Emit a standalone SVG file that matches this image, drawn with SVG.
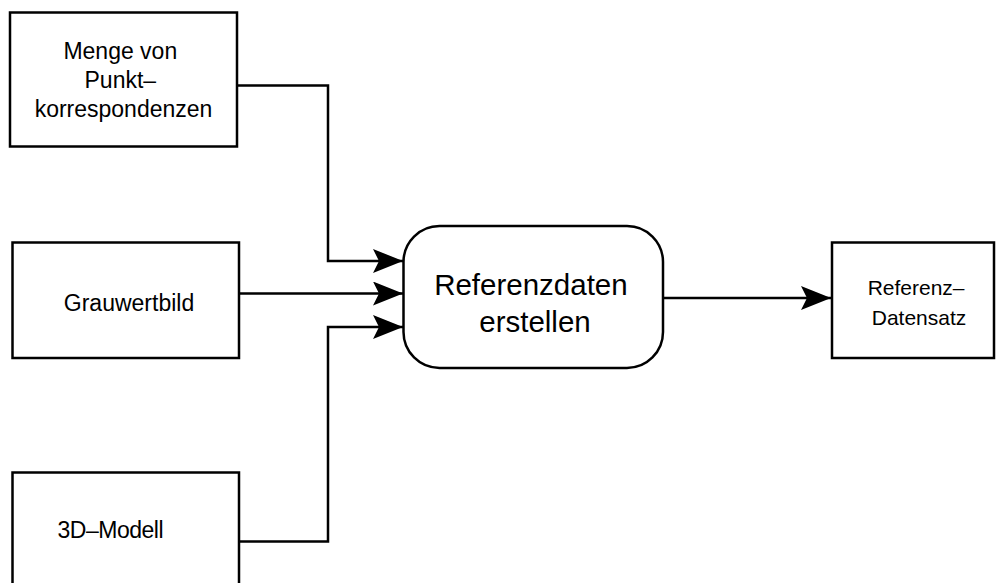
<svg xmlns="http://www.w3.org/2000/svg" width="996" height="583" viewBox="0 0 996 583">
  <style>
    .box { fill: #ffffff; stroke: #000000; stroke-width: 2.5; }
    .lbl { font-family: "Liberation Sans", Arial, sans-serif; fill: #000000; text-anchor: middle; }
    .conn { fill: none; stroke: #000000; stroke-width: 2.5; marker-end: url(#arrow); }
  </style>
  <defs>
    <marker id="arrow" markerUnits="userSpaceOnUse" markerWidth="32" markerHeight="26" refX="30" refY="12" orient="auto">
      <path d="M0,0 L30,12 L0,24 L6,12 Z" fill="#000000"/>
    </marker>
  </defs>
  <rect width="996" height="583" fill="#ffffff"/>

  <g id="connectors">
    <path class="conn" d="M237,85.5 H328 V261 H403"/>
    <path class="conn" d="M239,293.5 H403"/>
    <path class="conn" d="M239,541.5 H328 V327 H403"/>
    <path class="conn" d="M663,298 H831"/>
  </g>

  <g id="punktkorrespondenzen">
    <rect class="box" x="10" y="12.5" width="227" height="134"/>
    <text class="lbl" font-size="23" x="123.5">
      <tspan x="123.5" y="59">Menge von</tspan>
      <tspan x="123.5" y="88">Punkt–</tspan>
      <tspan x="123.5" y="117">korrespondenzen</tspan>
    </text>
  </g>

  <g id="grauwertbild">
    <rect class="box" x="12.5" y="242.5" width="226.5" height="115.5"/>
    <text class="lbl" font-size="23" x="129" y="311">Grauwertbild</text>
  </g>

  <g id="modell3d">
    <rect class="box" x="12.5" y="472.5" width="226.5" height="130"/>
    <text class="lbl" font-size="23" x="110.5" y="538" textLength="106" lengthAdjust="spacing">3D–Modell</text>
  </g>

  <g id="referenzdaten-erstellen">
    <rect class="box" x="403.5" y="226" width="259.5" height="142" rx="36" ry="36"/>
    <text class="lbl" font-size="29.5" x="535">
      <tspan x="535" y="295">Referenzdaten</tspan>
      <tspan x="535" y="332">erstellen</tspan>
    </text>
  </g>

  <g id="referenz-datensatz">
    <rect class="box" x="832" y="242.5" width="162" height="115.5"/>
    <text class="lbl" font-size="21" x="919">
      <tspan x="919" y="295">Referenz–</tspan>
      <tspan x="919" y="325">Datensatz</tspan>
    </text>
  </g>
</svg>
